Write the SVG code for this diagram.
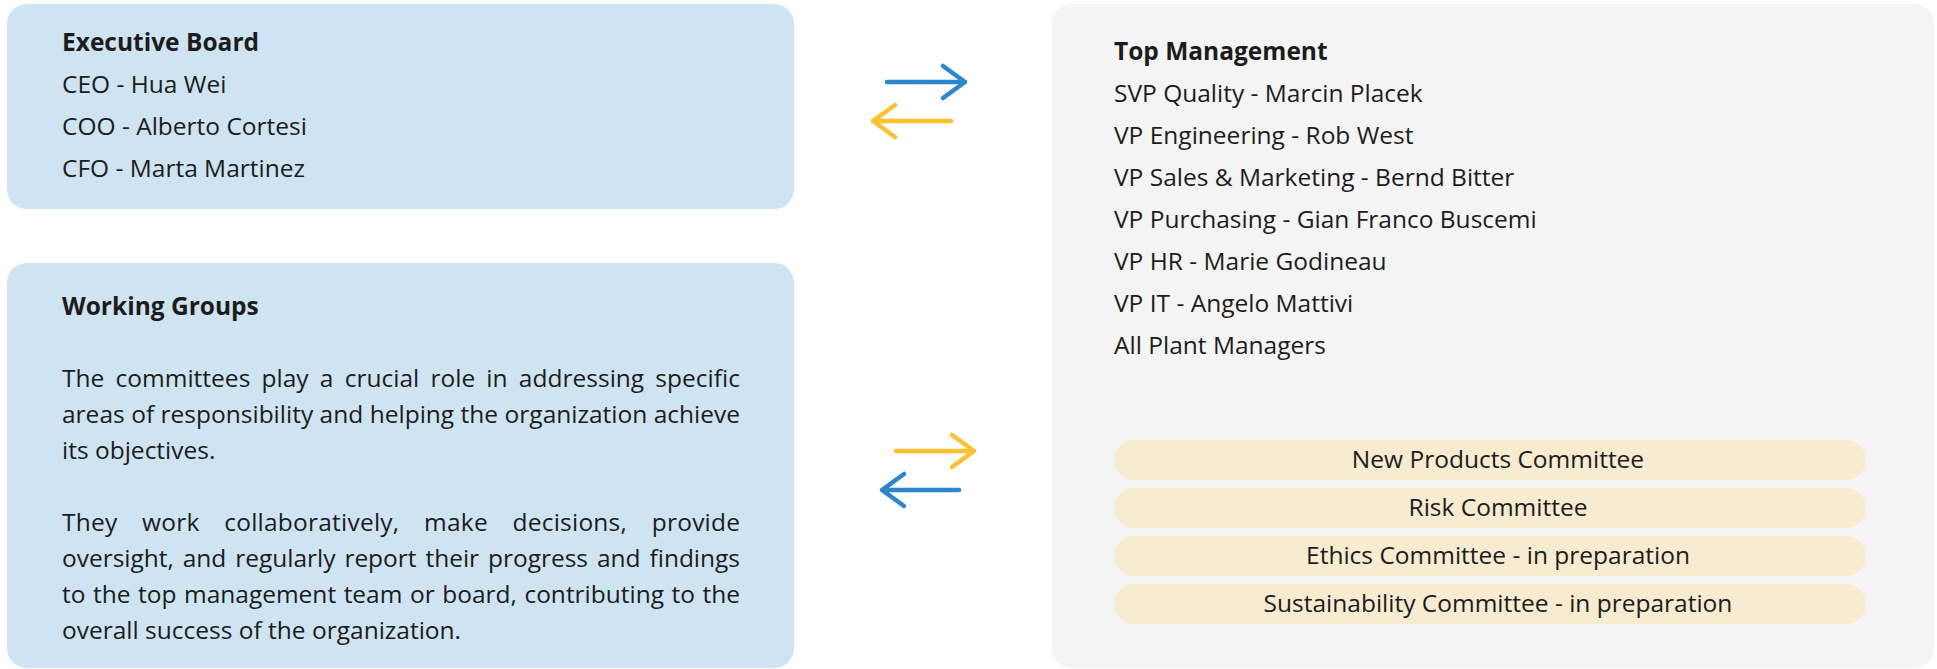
<svg xmlns="http://www.w3.org/2000/svg" width="1937" height="669" viewBox="0 0 1937 669">
<style>
.t{font-family:"Open Sans","Noto Sans","Liberation Sans",sans-serif;font-size:24.5px;fill:#1c1c1c}
.b{font-weight:700}
.c{text-anchor:middle}
.blue{fill:#cfe4f2}
.gray{fill:#f4f4f4}
.pill{fill:#f7ebd0}
.ab{fill:none;stroke:#2d86d0;stroke-width:4.5;stroke-linecap:round;stroke-linejoin:round}
.ay{fill:none;stroke:#ffc22e;stroke-width:4.5;stroke-linecap:round;stroke-linejoin:round}
</style>
<rect width="1937" height="669" fill="#ffffff"/>
<g id="executive-board">
<rect class="blue" x="7" y="4" width="787" height="205" rx="20"/>
<text class="t b" x="62" y="51">Executive Board</text>
<text class="t" x="62" y="93">CEO - Hua Wei</text>
<text class="t" x="62" y="135">COO - Alberto Cortesi</text>
<text class="t" x="62" y="177">CFO - Marta Martinez</text>
</g>
<g id="working-groups">
<rect class="blue" x="7" y="263" width="787" height="405" rx="20"/>
<text class="t b" x="62" y="315">Working Groups</text>
<text class="t" x="62" y="387" word-spacing="4.8" textLength="678" lengthAdjust="spacing">The committees play a crucial role in addressing specific</text>
<text class="t" x="62" y="423" word-spacing="0.1" textLength="678" lengthAdjust="spacing">areas of responsibility and helping the organization achieve</text>
<text class="t" x="62" y="459">its objectives.</text>
<text class="t" x="62" y="531" word-spacing="18" textLength="678" lengthAdjust="spacing">They work collaboratively, make decisions, provide</text>
<text class="t" x="62" y="567" word-spacing="2.6" textLength="678" lengthAdjust="spacing">oversight, and regularly report their progress and findings</text>
<text class="t" x="62" y="603" word-spacing="1.2" textLength="678" lengthAdjust="spacing">to the top management team or board, contributing to the</text>
<text class="t" x="62" y="639">overall success of the organization.</text>
</g>
<g id="top-management">
<rect class="gray" x="1052" y="4" width="882" height="664" rx="20"/>
<text class="t b" x="1114" y="60">Top Management</text>
<text class="t" x="1114" y="102">SVP Quality - Marcin Placek</text>
<text class="t" x="1114" y="144">VP Engineering - Rob West</text>
<text class="t" x="1114" y="186">VP Sales &amp; Marketing - Bernd Bitter</text>
<text class="t" x="1114" y="228">VP Purchasing - Gian Franco Buscemi</text>
<text class="t" x="1114" y="270">VP HR - Marie Godineau</text>
<text class="t" x="1114" y="312">VP IT - Angelo Mattivi</text>
<text class="t" x="1114" y="354">All Plant Managers</text>
</g>
<g id="committee-new-products">
<rect class="pill" x="1114" y="440" width="752" height="40" rx="20"/>
<text class="t c" x="1498" y="468">New Products Committee</text>
</g>
<g id="committee-risk">
<rect class="pill" x="1114" y="488" width="752" height="40" rx="20"/>
<text class="t c" x="1498" y="516">Risk Committee</text>
</g>
<g id="committee-ethics">
<rect class="pill" x="1114" y="536" width="752" height="40" rx="20"/>
<text class="t c" x="1498" y="564">Ethics Committee - in preparation</text>
</g>
<g id="committee-sustainability">
<rect class="pill" x="1114" y="584" width="752" height="40" rx="20"/>
<text class="t c" x="1498" y="612">Sustainability Committee - in preparation</text>
</g>
<g id="connectors">
<path class="ab" d="M887 82 H965 M943 66 L965 82 L943 98"/>
<path class="ay" d="M951 121 H873 M895 105 L873 121 L895 137"/>
<path class="ay" d="M896 451 H974 M952 435 L974 451 L952 467"/>
<path class="ab" d="M959 490 H882 M904 474 L882 490 L904 506"/>
</g>
</svg>
